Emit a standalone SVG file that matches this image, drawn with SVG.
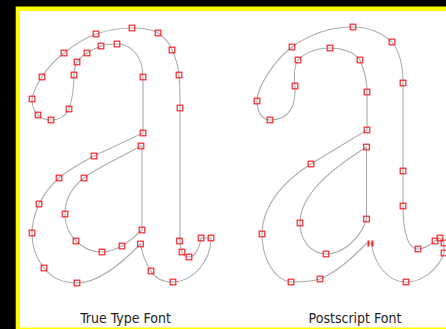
<svg xmlns="http://www.w3.org/2000/svg" width="446" height="329" viewBox="0 0 446 329">
<style>
.o{fill:none;stroke:#adadad;stroke-width:1.1}
.p{fill:none;stroke:#f5262e;stroke-width:1.2}
.t{font-family:"DejaVu Sans Condensed","DejaVu Sans",sans-serif;font-size:14px;fill:#222;text-anchor:middle}
</style>
<defs><rect id="s" x="-2.8" y="-2.8" width="5.6" height="5.6" class="p"/></defs>
<rect width="446" height="329" fill="#000"/>
<rect x="15.7" y="6.500" width="431" height="323" fill="#ff0"/>
<rect x="20" y="11" width="426" height="316.500" fill="#fff"/>
<g id="truetype-outline">
<path class="o" d="M143,133 L143,77 C143,55 130,44 117,44 C111,44 106,44 101,46 C96,48 91,50 87,53 C82,56 79,59 77,62 C75,66 74,70 74,75 C74,90 72,100 69,109 C66,116 59,120 51,120 C46,120 41,118 38,115 C34,111 32,105 32,99 C33,92 38,83 42,77 C48,67 55,60 64,53 C74,45 85,38 96,34 C108,30 120,28 132,28 C142,28 151,29 158,33 C165,38 170,44 172,50 C176,58 178,66 179,75 C180,86 180,96 180,108 L180,241 C180,245 181,249 182,252 C184,256 186,257 189,257 C195,257 200,247 201,238 L211,238 C211,262 192,282 173,282 C163,282 155,278 151,271 C145,262 142,253 140.5,244 C125,260 100,283 77,283 C62,283 51,277 44,268 C36,258 32,246 32,233 C32,222 35,213 39,204 C44,194 50,186 59,178 C68,170 81,163 94,156 Z"/>
<path class="o" d="M141,146 L105,165 C98,169 90,173 84,178 C72,187 65,200 65,214 C65,224 69,234 76,241 C83,248 92,252 102,252 C109,252 116,249 122,246 C130,241 136,236 142,230 L142,146 Z"/>
</g>
<g id="truetype-points">
<use href="#s" x="143" y="133"/><use href="#s" x="143" y="77"/><use href="#s" x="117" y="44"/><use href="#s" x="101" y="46"/><use href="#s" x="87" y="53"/><use href="#s" x="77" y="62"/><use href="#s" x="74" y="75"/><use href="#s" x="69" y="109"/><use href="#s" x="51" y="120"/><use href="#s" x="38" y="115"/><use href="#s" x="32" y="99"/><use href="#s" x="42" y="77"/><use href="#s" x="64" y="53"/><use href="#s" x="96" y="34"/><use href="#s" x="132" y="28"/><use href="#s" x="158" y="33"/><use href="#s" x="172" y="50"/><use href="#s" x="179" y="75"/><use href="#s" x="180" y="108"/><use href="#s" x="179.5" y="241"/><use href="#s" x="182" y="252"/><use href="#s" x="189" y="257"/><use href="#s" x="201" y="238"/><use href="#s" x="211" y="238"/><use href="#s" x="173" y="282"/><use href="#s" x="151" y="271"/><use href="#s" x="140.5" y="244"/><use href="#s" x="77" y="283"/><use href="#s" x="44" y="268"/><use href="#s" x="32" y="233"/><use href="#s" x="39" y="204"/><use href="#s" x="59" y="178"/><use href="#s" x="94" y="156"/>
<use href="#s" x="141" y="146"/><use href="#s" x="84" y="178"/><use href="#s" x="65" y="214"/><use href="#s" x="76" y="241"/><use href="#s" x="102" y="252"/><use href="#s" x="122" y="246"/><use href="#s" x="142" y="230"/>
</g>
<g id="postscript-outline">
<path class="o" d="M367,130 L367,92 C367,80 364,69 360,60 C354,52 342,48 330,48 C318,48 306,52 298,60 C294,66 294,78 295,86 C296,105 290,120 270,120 C262,120 257,112 257,101 C258,85 275,60 292,47 C310,34 332,27 353,27 C368,27 382,33 392,42 C400,52 403,68 403,83 L403,206 C403,225 406,249 418,249 C424,249 430,245 435,241 L440,238 L444,243 L444,253 C438,270 422,282 406,282 C388,282 375,265 371,243 L367,243 C352,258 337,272 320,279 C311,282 300,282 291,282 C274,280 262,258 262,234 C262,205 285,180 311,164 Z"/>
<path class="o" d="M366.5,147 L366.5,219 C362,235 345,254 326,254 C311,254 300,240 300,223 C300,195 330,170 366.5,147 Z"/>
</g>
<g id="postscript-points">
<use href="#s" x="367" y="130"/><use href="#s" x="367" y="92"/><use href="#s" x="360" y="60"/><use href="#s" x="330" y="48"/><use href="#s" x="298" y="60"/><use href="#s" x="295" y="86"/><use href="#s" x="270" y="120"/><use href="#s" x="257" y="101"/><use href="#s" x="292" y="47"/><use href="#s" x="353" y="27"/><use href="#s" x="392" y="42"/><use href="#s" x="403" y="83"/><use href="#s" x="403" y="171"/><use href="#s" x="403" y="206"/><use href="#s" x="418" y="249"/><use href="#s" x="435" y="241"/><use href="#s" x="440" y="238"/><use href="#s" x="444" y="243"/><use href="#s" x="444" y="253"/><use href="#s" x="406" y="282"/><use href="#s" x="320" y="279"/><use href="#s" x="291" y="282"/><use href="#s" x="262" y="234"/><use href="#s" x="311" y="164"/>
<use href="#s" x="366.5" y="147"/><use href="#s" x="366.5" y="219"/><use href="#s" x="326" y="254"/><use href="#s" x="300" y="223"/>
<path d="M367.500,240.500h2v6h-2zM371.500,240.500h2v6h-2z" fill="#f5262e"/>
</g>
<text class="t" x="125.500" y="323">True Type Font</text>
<text class="t" x="355" y="323">Postscript Font</text>
</svg>
